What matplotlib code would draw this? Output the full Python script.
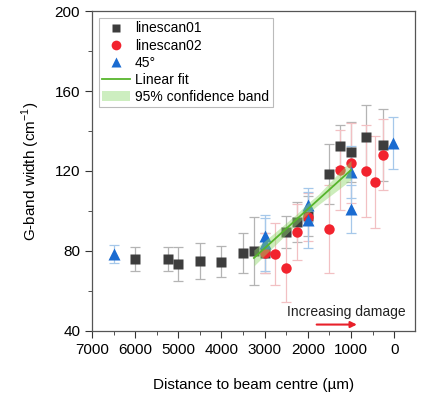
import matplotlib
matplotlib.use("Agg")
import matplotlib.pyplot as plt
from matplotlib.patches import Patch
from matplotlib.lines import Line2D
from matplotlib.ticker import MultipleLocator

plt.rcParams['font.family'] = ['Liberation Sans', 'DejaVu Sans']

# linescan01 (squares)
ls1_x = [6000, 5250, 5000, 4500, 4000, 3500, 3250, 3000, 2500, 2250, 2000, 1500, 1250, 1000, 650, 250]
ls1_y = [75.8, 75.8, 73.7, 75.2, 74.7, 79.2, 80.0, 79.2, 89.3, 94.3, 97.5, 118.7, 132.5, 129.5, 136.8, 133.2]
ls1_e = [6.0, 6.0, 8.5, 9.0, 7.8, 10.0, 17.0, 10.0, 8.0, 10.0, 10.0, 15.0, 10.5, 15.0, 16.0, 18.0]

# linescan02 (circles)
ls2_x = [3000, 2750, 2500, 2250, 2000, 1500, 1250, 1000, 650, 450, 250]
ls2_y = [79.0, 78.5, 71.3, 89.5, 97.0, 90.8, 120.5, 123.8, 120.2, 114.7, 128.2]
ls2_e = [10.0, 15.7, 17.0, 14.0, 12.0, 22.0, 20.0, 20.0, 23.0, 23.0, 17.6]

# 45 degree (triangles)
d45_x = [6500, 3000, 3000, 2000, 2000, 1000, 1000, 30]
d45_y = [78.5, 87.5, 83.8, 103.0, 95.3, 119.5, 101.0, 134.2]
d45_e = [4.3, 9.0, 14.0, 8.5, 14.0, 13.0, 12.0, 13.0]

# linear fit and 95% confidence band
fit_x = [3250, 1000]
fit_y = [76.5, 120.5]
band_x = [3250, 2750, 2250, 2000, 1750, 1250, 1000]
band_lo = [72.5, 83.1, 93.5, 98.7, 103.2, 111.4, 115.7]
band_hi = [80.5, 89.5, 98.7, 103.9, 108.4, 119.8, 125.3]

fig = plt.figure(figsize=(4.21, 3.94), dpi=100)
ax = fig.add_axes([0.2185, 0.16, 0.767, 0.812])

c_sq, c_rd, c_bl = '#3d3d3d', '#f2232e', '#1a6bd1'
ax.errorbar(ls1_x, ls1_y, yerr=ls1_e, fmt='none', ecolor='#b4b4b4', elinewidth=0.9,
            capsize=3.5, capthick=0.9, zorder=1)
ax.errorbar(ls2_x, ls2_y, yerr=ls2_e, fmt='none', ecolor='#f2c0c3', elinewidth=0.9,
            capsize=3.5, capthick=0.9, zorder=1)
ax.errorbar(d45_x, d45_y, yerr=d45_e, fmt='none', ecolor='#a6c8ea', elinewidth=0.9,
            capsize=3.5, capthick=0.9, zorder=1)
ax.plot(ls1_x, ls1_y, 's', color=c_sq, ms=7, mec='none', zorder=3)
ax.plot(ls2_x, ls2_y, 'o', color=c_rd, ms=7.5, mec='none', zorder=3)
ax.plot(d45_x, d45_y, '^', color=c_bl, ms=8, mec='none', zorder=3)

ax.fill_between(band_x, band_lo, band_hi, color='#8fd86a', alpha=0.45, lw=0, zorder=4)
ax.plot(fit_x, fit_y, '-', color='#57b52c', lw=1.3, zorder=5)

ax.set_xlim(7000, -480)
ax.set_ylim(40, 200)
ax.xaxis.set_major_locator(MultipleLocator(1000))
ax.xaxis.set_minor_locator(MultipleLocator(500))
ax.yaxis.set_major_locator(MultipleLocator(40))
ax.yaxis.set_minor_locator(MultipleLocator(20))
ax.tick_params(which='both', direction='out', labelsize=11, color='#333333')
ax.tick_params(which='major', length=5)
ax.tick_params(which='minor', length=3)
for s in ax.spines.values():
    s.set_color('#555555')
    s.set_linewidth(0.9)

ax.set_xlabel('Distance to beam centre (µm)', fontsize=11, labelpad=15)
ax.set_ylabel('G-band width (cm$^{\\mathregular{-1}}$)', fontsize=11, labelpad=9)

ax.text(1118, 49.5, 'Increasing damage', fontsize=10, ha='center', va='center', color='#222222')
ax.annotate('', xy=(800, 43.2), xytext=(1860, 43.2),
            arrowprops=dict(arrowstyle='-|>', color='#e8202a', lw=1.5, mutation_scale=9))

handles = [
    Line2D([], [], marker='s', ls='none', color=c_sq, ms=6, mec='none'),
    Line2D([], [], marker='o', ls='none', color=c_rd, ms=7, mec='none'),
    Line2D([], [], marker='^', ls='none', color=c_bl, ms=7, mec='none'),
    Line2D([], [], color='#57b52c', lw=1.3),
    Patch(facecolor='#cdeec0', edgecolor='none'),
]
labels = ['linescan01', 'linescan02', '45°', 'Linear fit', '95% confidence band']
leg = ax.legend(handles, labels, loc='upper left', fontsize=10, frameon=True, fancybox=False,
                edgecolor='#aaaaaa', borderaxespad=0.5, handlelength=2.0, labelspacing=0.22,
                borderpad=0.25, handletextpad=0.35)
leg.get_frame().set_linewidth(0.8)

fig.savefig('out.png', dpi=100)
